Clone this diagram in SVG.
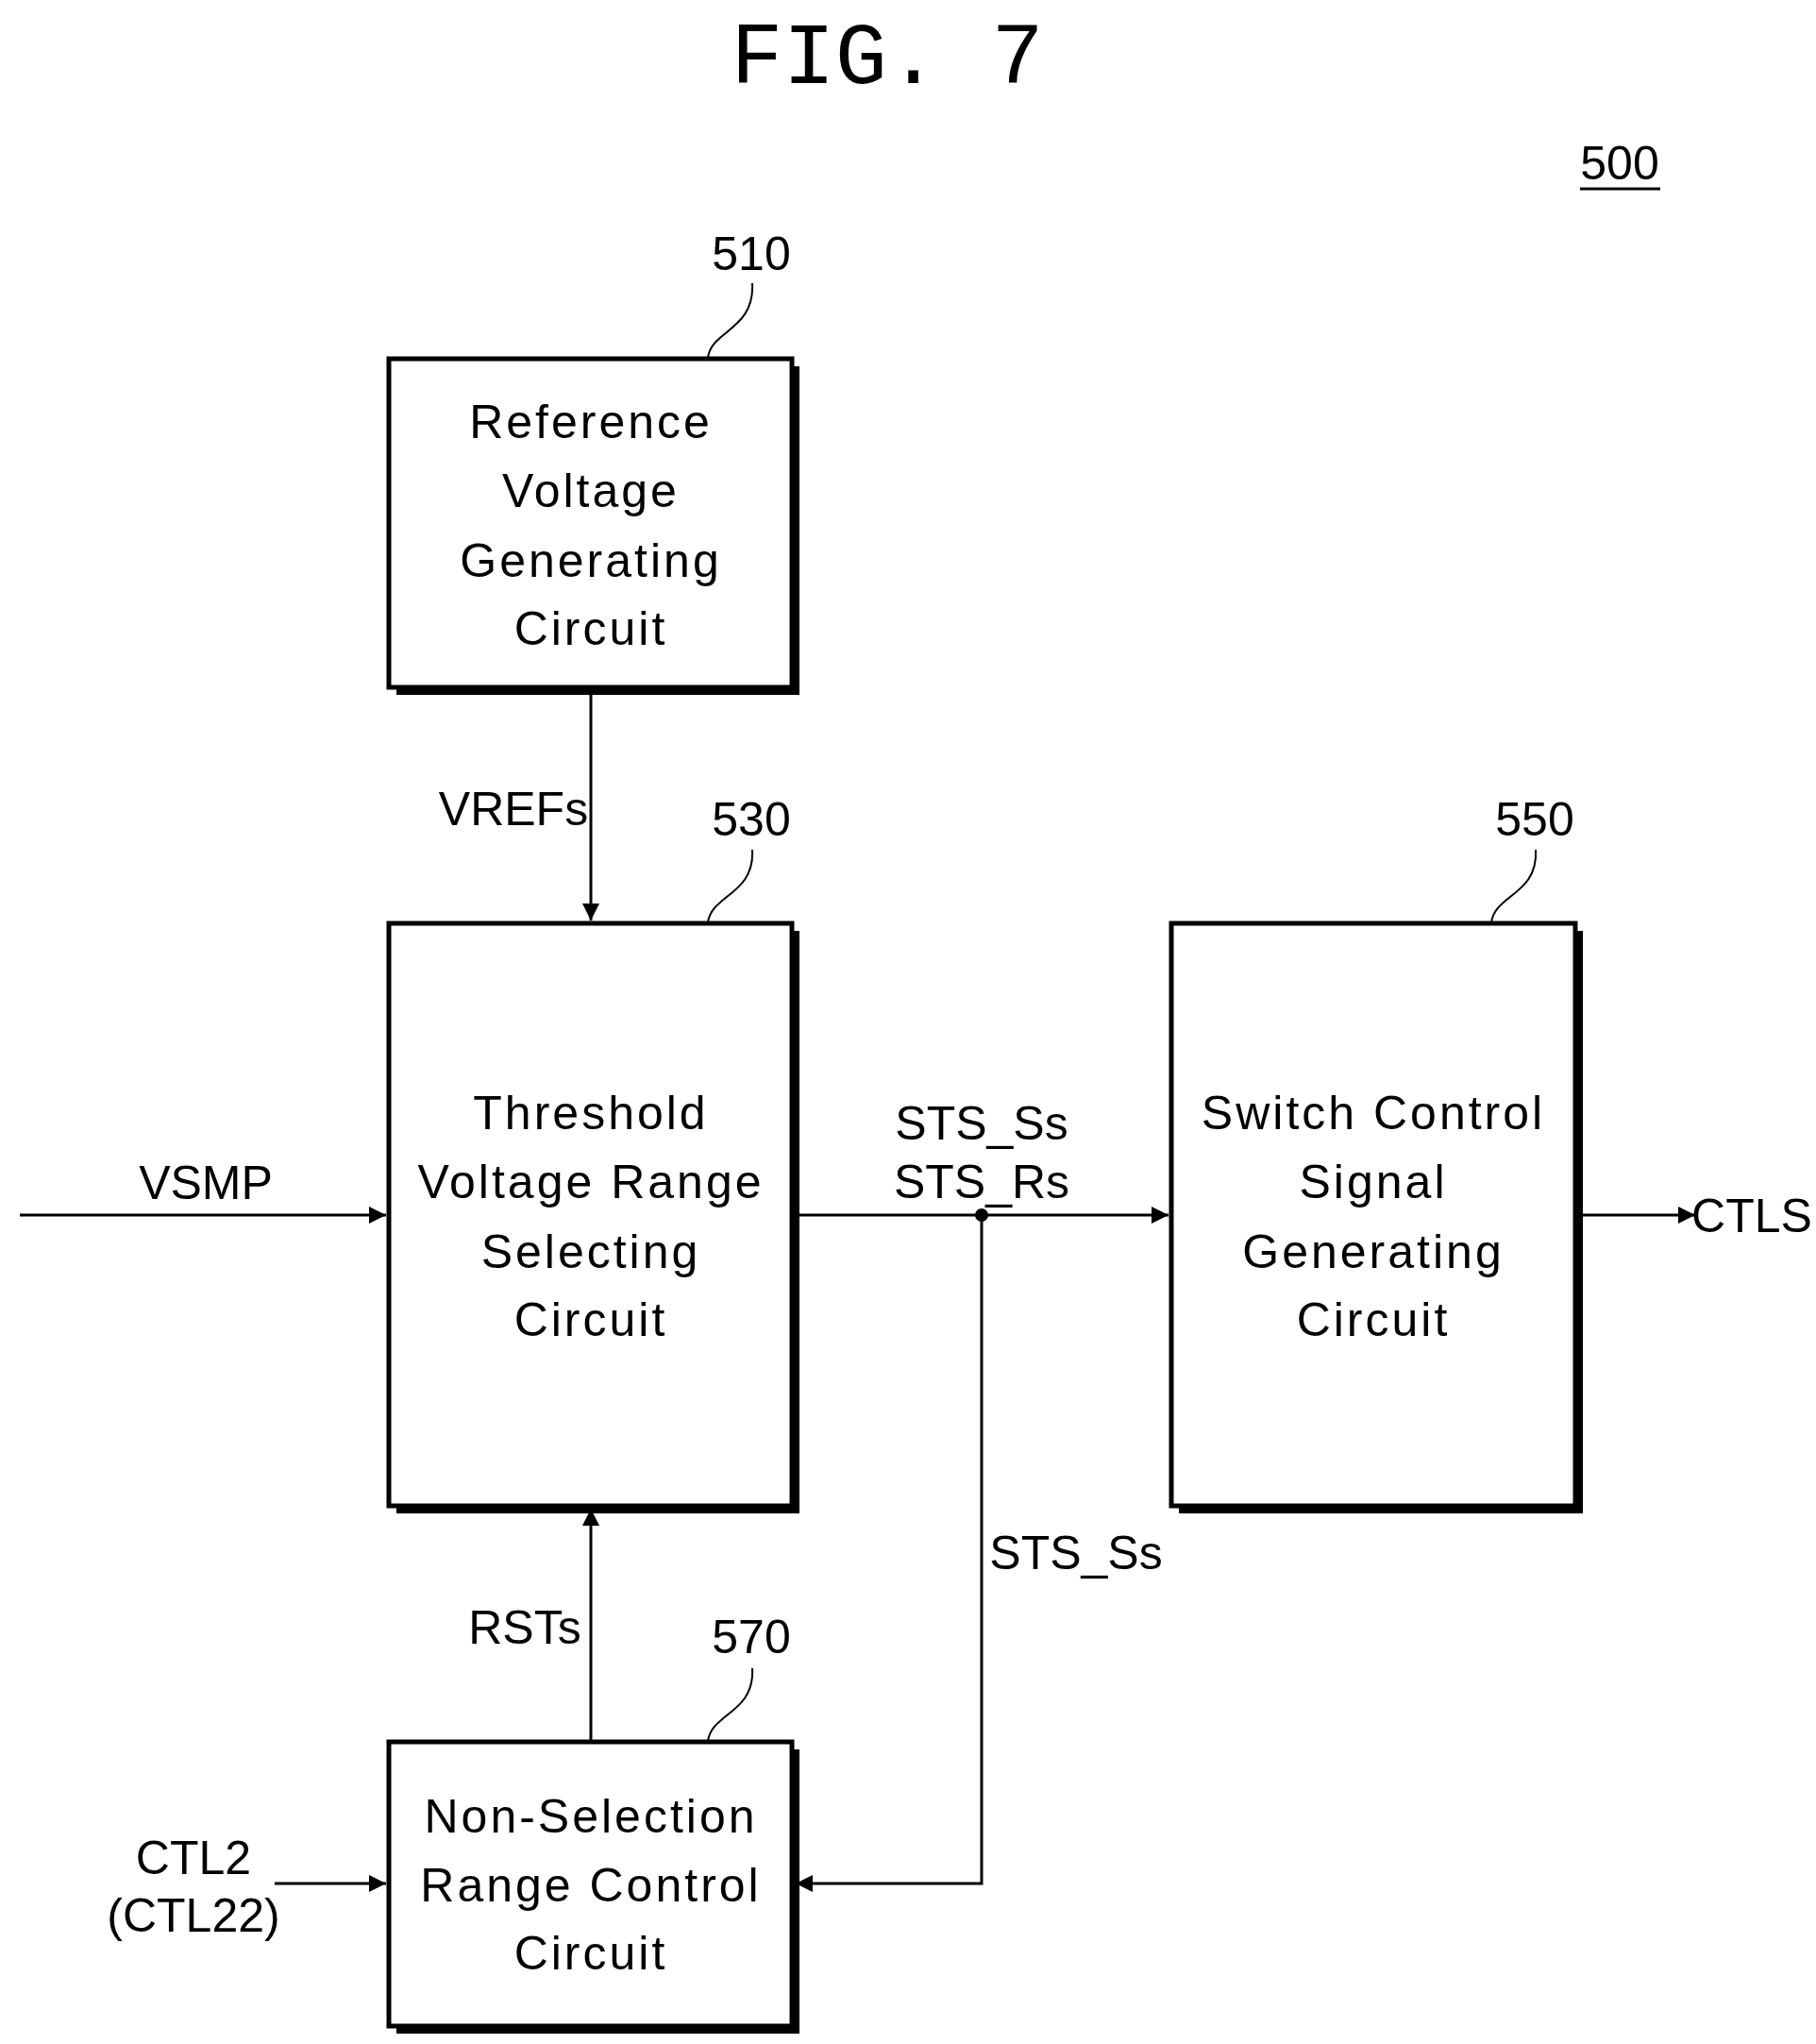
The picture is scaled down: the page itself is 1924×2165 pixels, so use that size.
<svg xmlns="http://www.w3.org/2000/svg" width="1924" height="2165" viewBox="0 0 1924 2165">
<style>
text{font-family:"Liberation Sans",Arial,sans-serif;font-size:50px;fill:#000;text-anchor:middle}
.t{letter-spacing:3px}
.box{fill:#fff;stroke:#000;stroke-width:5}
.sh{fill:#000}
.ln{stroke:#000;stroke-width:3;fill:none}
.ld{stroke:#000;stroke-width:2;fill:none}
</style>
<defs><marker id="a" viewBox="0 0 10 10" refX="10" refY="5" markerWidth="10" markerHeight="8" markerUnits="userSpaceOnUse" orient="auto"><path d="M0,0L10,5L0,10z" fill="#000"/></marker>
<marker id="ar" viewBox="0 0 10 10" refX="10" refY="5" markerWidth="30" markerHeight="18" orient="auto" markerUnits="userSpaceOnUse"><path d="M0,0L10,5L0,10z" fill="#000"/></marker></defs>
<text x="940" y="88" style="font-family:'Liberation Mono',monospace;font-size:92px">FIG. 7</text>
<text x="1716" y="190" style="font-size:50px">500</text>
<line x1="1674" y1="200" x2="1759" y2="200" class="ln"/>
<g id="n510"><rect x="420" y="388" width="427" height="348" class="sh"/><rect x="412" y="380" width="427" height="348" class="box"/>
<text class="t" x="626" y="464">Reference</text><text class="t" x="626" y="537">Voltage</text><text class="t" x="626" y="611">Generating</text><text class="t" x="626" y="683">Circuit</text>
<text x="796" y="286">510</text><path class="ld" d="M750,380C752,350 800,350 797,300"/></g>
<g id="n530"><rect x="420" y="986" width="427" height="617" class="sh"/><rect x="412" y="978" width="427" height="617" class="box"/>
<text class="t" x="626" y="1196">Threshold</text><text class="t" x="626" y="1269">Voltage Range</text><text class="t" x="626" y="1343">Selecting</text><text class="t" x="626" y="1415">Circuit</text>
<text x="796" y="885">530</text><path class="ld" d="M750,978C752,948 800,948 797,900"/></g>
<g id="n550"><rect x="1249" y="986" width="428" height="617" class="sh"/><rect x="1241" y="978" width="428" height="617" class="box"/>
<text class="t" x="1455" y="1196">Switch Control</text><text class="t" x="1455" y="1269">Signal</text><text class="t" x="1455" y="1343">Generating</text><text class="t" x="1455" y="1415">Circuit</text>
<text x="1626" y="885">550</text><path class="ld" d="M1580,978C1582,948 1630,948 1627,900"/></g>
<g id="n570"><rect x="420" y="1853" width="427" height="301" class="sh"/><rect x="412" y="1845" width="427" height="301" class="box"/>
<text class="t" x="626" y="1941">Non-Selection</text><text class="t" x="626" y="2014">Range Control</text><text class="t" x="626" y="2086">Circuit</text>
<text x="796" y="1751">570</text><path class="ld" d="M750,1845C752,1815 800,1815 797,1767"/></g>
<g id="connectors">
<line class="ln" x1="626" y1="736" x2="626" y2="975" marker-end="url(#ar)"/>
<line class="ln" x1="21" y1="1287" x2="409" y2="1287" marker-end="url(#ar)"/>
<line class="ln" x1="847" y1="1287" x2="1238" y2="1287" marker-end="url(#ar)"/>
<circle cx="1040" cy="1287" r="7" fill="#000"/>
<polyline class="ln" points="1040,1287 1040,1995 843,1995" marker-end="url(#ar)"/>
<line class="ln" x1="626" y1="1845" x2="626" y2="1598" marker-end="url(#ar)"/>
<line class="ln" x1="291" y1="1995" x2="409" y2="1995" marker-end="url(#ar)"/>
<line class="ln" x1="1677" y1="1287" x2="1796" y2="1287" marker-end="url(#ar)"/>
<text x="544" y="874">VREFs</text>
<text x="218" y="1270">VSMP</text>
<text x="1040" y="1207">STS_Ss</text>
<text x="1040" y="1269">STS_Rs</text>
<text x="1140" y="1662">STS_Ss</text>
<text x="556" y="1741">RSTs</text>
<text x="205" y="1985">CTL2</text>
<text x="205" y="2046">(CTL22)</text>
<text x="1856" y="1305">CTLS</text>
</g>
</svg>
